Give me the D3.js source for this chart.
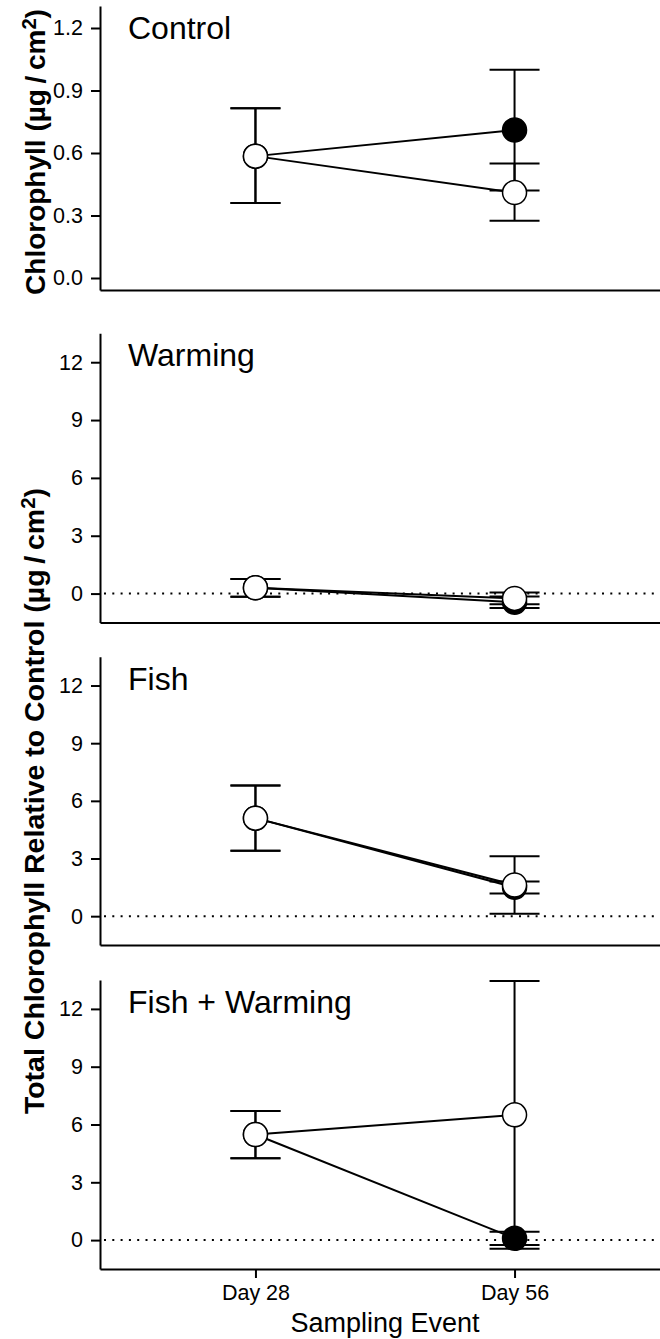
<!DOCTYPE html>
<html>
<head>
<meta charset="utf-8">
<script src="https://cdn.jsdelivr.net/npm/d3@7"></script>
<style>
  body { margin: 0; background: #fff; }
  text { font-family: "Liberation Sans", Arial, sans-serif; fill: #000; }
</style>
</head>
<body>
<div id="chart"></div>
<script>
// chart data
var days = ["Day 28", "Day 56"];
var panelNames = ["Control", "Warming", "Fish", "Fish + Warming"];

// filled (black) series: mean, lower and upper error limits per panel
var filledMean  = [[0.585, 0.71], [0.30, -0.45], [5.10, 1.50], [5.48, 0.09]];
var filledLower = [[0.36, 0.42], [-0.16, -0.75], [3.40, 1.18], [4.25, -0.26]];
var filledUpper = [[0.815, 1.00], [0.76, -0.15], [6.80, 1.81], [6.70, 0.43]];

// open (white) series
var openMean  = [[0.585, 0.41], [0.30, -0.25], [5.10, 1.62], [5.48, 6.50]];
var openLower = [[0.36, 0.275], [-0.16, -0.55], [3.40, 0.12], [4.25, -0.45]];
var openUpper = [[0.815, 0.55], [0.76, 0.05], [6.80, 3.12], [6.70, 13.45]];

var controlTicks = [0, 0.3, 0.6, 0.9, 1.2];
var relativeTicks = [0, 3, 6, 9, 12];

(function() {
    var width = 660,
        height = 1339;

    // panel frames (pixel top / bottom) and y domains
    var frames = [
        {top: 6, bottom: 290, domain: [-0.0576, 1.3056], ticks: controlTicks, fmt: d3.format(".1f"), zero: false},
        {top: 333.3, bottom: 622.5, domain: [-1.5, 13.5], ticks: relativeTicks, fmt: d3.format("d"), zero: true},
        {top: 656.7, bottom: 945, domain: [-1.5, 13.5], ticks: relativeTicks, fmt: d3.format("d"), zero: true},
        {top: 980, bottom: 1269, domain: [-1.5, 13.5], ticks: relativeTicks, fmt: d3.format("d"), zero: true}
    ];

    var svg = d3.select("#chart")
        .append("svg")
        .attr("width", width)
        .attr("height", height)

    var x = d3.scaleLinear().domain([0.4, 2.6]).range([100, 670])

    frames.forEach(function(f, i) {
        var y = d3.scaleLinear().domain(f.domain).range([f.bottom, f.top])
        var g = svg.append("g")

        // y axis
        var yAxis = g.append("g")
            .attr("transform", "translate(" + x(0.4) + ",0)")
            .call(d3.axisLeft(y).tickValues(f.ticks).tickFormat(f.fmt)
                .tickSize(9).tickPadding(8).tickSizeOuter(0))
        yAxis.selectAll("path, line").attr("stroke", "#000").attr("stroke-width", 2)
        yAxis.selectAll("text").attr("font-size", 21.5).attr("font-family", "Liberation Sans, Arial, sans-serif")

        // x axis line (ticks and labels only on the bottom panel)
        var xAxis = g.append("g")
            .attr("transform", "translate(0," + f.bottom + ")")
            .call(d3.axisBottom(x).tickValues(i == 3 ? [1, 2] : [])
                .tickFormat(function(d) { return days[d - 1] })
                .tickSize(9).tickPadding(7).tickSizeOuter(0))
        xAxis.selectAll("path, line").attr("stroke", "#000").attr("stroke-width", 2)
        xAxis.selectAll("text").attr("font-size", 21.5).attr("font-family", "Liberation Sans, Arial, sans-serif")

        if (f.zero) {
            g.append("line")
                .attr("x1", x(0.4) + 4)
                .attr("x2", width)
                .attr("y1", y(0))
                .attr("y2", y(0))
                .attr("stroke", "#000")
                .attr("stroke-width", 2)
                .attr("stroke-dasharray", "2,6.3")
        }

        var series = [
            {mean: filledMean[i], lo: filledLower[i], hi: filledUpper[i], fill: "#000"},
            {mean: openMean[i], lo: openLower[i], hi: openUpper[i], fill: "#fff"}
        ];

        // error bars
        series.forEach(function(s) {
            s.mean.forEach(function(m, j) {
                var cx = x(j + 1)
                g.append("line")
                    .attr("x1", cx).attr("x2", cx)
                    .attr("y1", y(s.lo[j])).attr("y2", y(s.hi[j]))
                    .attr("stroke", "#000").attr("stroke-width", 2)
                ;[s.lo[j], s.hi[j]].forEach(function(v) {
                    g.append("line")
                        .attr("x1", cx - 25).attr("x2", cx + 25)
                        .attr("y1", y(v)).attr("y2", y(v))
                        .attr("stroke", "#000").attr("stroke-width", 2)
                })
            })
        })

        // connecting lines
        var line = d3.line()
            .x(function(d, j) { return x(j + 1) })
            .y(function(d) { return y(d) })

        series.forEach(function(s) {
            g.append("path")
                .attr("d", line(s.mean))
                .attr("fill", "none")
                .attr("stroke", "#000")
                .attr("stroke-width", 2)
        })

        // points
        series.forEach(function(s) {
            g.selectAll(null)
                .data(s.mean)
                .enter().append("circle")
                .attr("cx", function(d, j) { return x(j + 1) })
                .attr("cy", function(d) { return y(d) })
                .attr("r", 12)
                .attr("fill", s.fill)
                .attr("stroke", "#000")
                .attr("stroke-width", 1.5)
        })

        // panel title
        g.append("text")
            .attr("x", 128)
            .attr("y", f.top + 33)
            .attr("font-size", 32)
            .text(panelNames[i])
    })

    // axis titles
    function unitLabel(sel, lead) {
        sel.append("tspan").text(lead + " (\u00b5g\u2009/\u2009cm")
        sel.append("tspan").attr("dy", "-0.45em").attr("font-size", "0.72em").text("2")
        sel.append("tspan").attr("dy", "0.32em").text(")")
    }

    var t1 = svg.append("text")
        .attr("transform", "translate(45,152) rotate(-90)")
        .attr("text-anchor", "middle")
        .attr("font-size", 28)
        .attr("font-weight", "bold")
    unitLabel(t1, "Chlorophyll")

    var t2 = svg.append("text")
        .attr("transform", "translate(44,801) rotate(-90)")
        .attr("text-anchor", "middle")
        .attr("font-size", 28.5)
        .attr("font-weight", "bold")
    unitLabel(t2, "Total Chlorophyll Relative to Control")

    svg.append("text")
        .attr("x", x(1.5))
        .attr("y", 1332)
        .attr("text-anchor", "middle")
        .attr("font-size", 27)
        .text("Sampling Event")
})();
</script>
</body>
</html>
